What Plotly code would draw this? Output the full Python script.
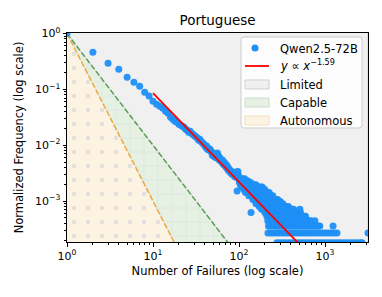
import numpy as np
import plotly.graph_objects as go

# ---- data ----
# head of distribution (number of failures -> count)
head_failures = [1, 2, 3, 4, 5, 6, 7, 8, 9]
head_counts = [11200, 5190, 3290, 2580, 1850, 1510, 1280, 1000, 850]

mid_failures = [10, 11, 12, 13, 14, 15, 16, 17, 18, 19, 20, 21, 22, 23, 24, 25, 26, 27, 28, 29,
                30, 31, 32, 33, 34, 35, 36, 37, 38, 39, 40, 41, 42, 43, 44, 45, 46, 47, 48, 49,
                50, 51, 52, 53, 54, 55, 56, 57, 58, 59, 60,
                61, 62, 63, 64, 65, 66, 67, 68, 69, 70, 71, 72, 73, 74, 75, 76, 78, 79, 80, 81,
                83, 84, 86, 87, 89, 90, 92, 93, 95, 96, 97, 98, 99, 138]
mid_counts = [687, 608, 560, 515, 455, 420, 356, 327, 302, 290, 267, 256, 245, 236, 217, 208, 192, 200, 184, 177,
              169, 163, 156, 150, 138, 144, 132, 127, 122, 117, 112, 103, 108, 95, 99, 91, 95, 88, 84, 74,
              81, 71, 77, 68, 74, 66, 81, 74, 71, 61, 66,
              63, 58, 56, 61, 53, 51, 56, 49, 53, 47, 45, 49, 43, 45, 40, 43, 38, 40, 36, 38,
              34, 37, 33, 35, 31, 33, 30, 37, 17, 35, 38, 33, 29, 7]

# tail: failures observed at a given count level
tail_levels = {
    28: [100, 105, 110, 116],
    26: [103, 108, 113, 120, 126],
    24: [101, 106, 111, 118, 124, 131, 137],
    22: [104, 109, 115, 122, 129, 135, 142, 150, 157],
    20: [107, 112, 117, 125, 133, 140, 147, 155, 163, 170, 178, 186],
    18: [114, 121, 128, 136, 144, 152, 160, 168, 176, 184, 192, 200],
    16: [119, 127, 134, 143, 151, 159, 167, 175, 183, 191, 199, 208, 216, 224],
    14: [130, 138, 146, 154, 162, 171, 180, 189, 198, 207, 217, 227, 237, 247],
    12: [145, 153, 161, 169, 177, 187, 196, 206, 215, 226, 236, 246, 258, 270, 281],
    11: [156, 165, 174, 182, 194, 203, 213, 222, 232, 243, 254, 265, 277, 290, 302],
    10: [158, 166, 176, 185, 195, 205, 212, 220, 230, 240, 251, 262, 274, 286, 298, 311, 324],
    9: [172, 181, 190, 201, 211, 221, 231, 242, 253, 264, 276, 289, 302, 316, 330, 345, 360, 375],
    8: [183, 193, 204, 214, 225, 236, 248, 260, 272, 285, 299, 313, 328, 343, 359, 376, 394, 413, 432, 510],
    7: [200, 210, 219, 229, 239, 250, 261, 273, 287, 300, 314, 329, 344, 361, 378, 396, 415, 435, 456, 478, 500, 518],
    6: [211, 223, 234, 245, 257, 268, 281, 294, 308, 322, 337, 352, 368, 385, 403, 422, 441, 462, 483, 505, 529, 553, 578, 594],
    5: [216, 228, 241, 255, 266, 279, 292, 306, 319, 333, 348, 364, 381, 398, 417, 436, 456, 477, 499, 522, 546, 571, 598, 625, 654, 690, 763],
    4: [220, 233, 247, 262, 276, 290, 304, 318, 334, 349, 366, 383, 401, 420, 439, 460, 481, 503, 527, 551, 577, 604, 632, 661, 692, 724, 758, 793, 830, 870, 1240],
    3: [217, 234, 253, 273, 295, 318, 344, 371, 401, 433, 468, 505, 546, 589, 636, 687, 742, 801, 866, 935, 1010, 1090, 1177, 1271, 1380, 3160],
    2: [276, 298, 322, 348, 376, 406, 438, 473, 511, 552, 596, 644, 695, 751, 811, 876, 946, 1022, 1104, 1192, 1287, 1390, 1501, 1621, 1751, 1891, 2042, 2205, 2380, 2570, 2700],
}

fit_exponent = -1.59
fit_constant = 3.33
fit_start = 10
region_exponents = {"Capable": -2.0, "Autonomous": -3.0}

x_tick_vals = [1, 10, 100, 1000]
x_tick_text = ["10<sup>0</sup>", "10<sup>1</sup>", "10<sup>2</sup>", "10<sup>3</sup>"]
y_tick_vals = [1e-3, 1e-2, 1e-1, 1]
y_tick_text = ["10<sup>\u22123</sup>", "10<sup>\u22122</sup>", "10<sup>\u22121</sup>", "10<sup>0</sup>"]

legend_labels = ["Qwen2.5-72B", "<i>y</i> \u221d <i>x</i><sup>\u22121.59</sup>", "Limited", "Capable", "Autonomous"]

# ---- assemble ----
fx = list(head_failures) + list(mid_failures)
fc = list(head_counts) + list(mid_counts)
for c, xs in tail_levels.items():
    fx += xs
    fc += [c] * len(xs)
fx = np.array(fx, dtype=float)
fc = np.array(fc, dtype=float)
freq = fc / head_counts[0]
xmax = fx.max()

e_cap = region_exponents["Capable"]
e_aut = region_exponents["Autonomous"]

FONT = "DejaVu Sans"
BLUE = "#1e8ff5"
RED = "#ff0000"
COL = {
    "Limited": ("#f0f0f0", "#cfcfcf"),
    "Capable": ("#e6f1e4", "#cddccb"),
    "Autonomous": ("#fdf3e3", "#f2dfc0"),
}
fig = go.Figure()

# Limited (above y = x^-2)
fig.add_trace(go.Scatter(
    x=[1, xmax, xmax, 1], y=[1, xmax ** e_cap, 10, 10], fill="toself", mode="lines",
    fillcolor=COL["Limited"][0], line=dict(color=COL["Limited"][1], width=1), showlegend=False,
    hoverinfo="skip"))
# Capable (between x^-2 and x^-3)
fig.add_trace(go.Scatter(
    x=[1, xmax, xmax, 1], y=[1, xmax ** e_cap, xmax ** e_aut, 1], fill="toself", mode="lines",
    fillcolor=COL["Capable"][0], line=dict(color=COL["Capable"][1], width=1), showlegend=False,
    fillpattern=dict(shape="+", size=14, solidity=0.08, fgcolor="#d6e2d5", bgcolor=COL["Capable"][0], fillmode="replace"),
    hoverinfo="skip"))
# Autonomous (below x^-3)
fig.add_trace(go.Scatter(
    x=[1, xmax, xmax, 1], y=[1, xmax ** e_aut, 1e-12, 1e-12], fill="toself", mode="lines",
    fillcolor=COL["Autonomous"][0], line=dict(color=COL["Autonomous"][1], width=1), showlegend=False,
    fillpattern=dict(shape=".", size=14, solidity=0.08, fgcolor="#e2e0dc", bgcolor=COL["Autonomous"][0], fillmode="replace"),
    hoverinfo="skip"))

# boundary lines
fig.add_trace(go.Scatter(x=[1, xmax], y=[1, xmax ** e_cap], mode="lines",
                         line=dict(color="#5b9e57", width=1.5, dash="5.5px,2.4px"), showlegend=False))
fig.add_trace(go.Scatter(x=[1, xmax], y=[1, xmax ** e_aut], mode="lines",
                         line=dict(color="#e9aa45", width=1.5, dash="5.5px,2.4px"), showlegend=False))

# data
fig.add_trace(go.Scatter(x=fx, y=freq, mode="markers", name=legend_labels[0],
                         marker=dict(color=BLUE, size=7, opacity=0.95, line=dict(width=0)),
                         showlegend=False))
# fit
fit_x = np.array([fit_start, xmax])
fig.add_trace(go.Scatter(x=fit_x, y=fit_constant * fit_x ** fit_exponent, mode="lines",
                         line=dict(color=RED, width=1.8), name=legend_labels[1], showlegend=False))

# ---- manual matplotlib-style legend (paper coordinates) ----
L, R, T, B = 67, 368, 33, 242
def px(v):
    return (v - L) / (R - L)
def py(v):
    return (B - v) / (B - T)

# rounded legend frame
bx0, bx1, by0, by1, rad = 241, 362, 37, 128, 3
frame = (f"M {px(bx0 + rad)},{py(by0)} L {px(bx1 - rad)},{py(by0)} Q {px(bx1)},{py(by0)} {px(bx1)},{py(by0 + rad)} "
         f"L {px(bx1)},{py(by1 - rad)} Q {px(bx1)},{py(by1)} {px(bx1 - rad)},{py(by1)} "
         f"L {px(bx0 + rad)},{py(by1)} Q {px(bx0)},{py(by1)} {px(bx0)},{py(by1 - rad)} "
         f"L {px(bx0)},{py(by0 + rad)} Q {px(bx0)},{py(by0)} {px(bx0 + rad)},{py(by0)} Z")
shapes = [dict(type="path", xref="paper", yref="paper", path=frame,
               fillcolor="rgba(255,255,255,0.85)", line=dict(color="#cccccc", width=1), layer="above")]
rows = [48, 66, 84, 102, 120]
shapes.append(dict(type="circle", xref="paper", yref="paper", x0=px(251.5), x1=px(258.5),
                   y0=py(rows[0] + 3.5), y1=py(rows[0] - 3.5), fillcolor=BLUE, line=dict(width=0), layer="above"))
shapes.append(dict(type="line", xref="paper", yref="paper", x0=px(245), x1=px(269), y0=py(rows[1]), y1=py(rows[1]),
                   line=dict(color=RED, width=1.8), layer="above"))
for name, r in zip(["Limited", "Capable", "Autonomous"], rows[2:]):
    shapes.append(dict(type="rect", xref="paper", yref="paper", x0=px(245), x1=px(269),
                       y0=py(r + 5), y1=py(r - 4), fillcolor=COL[name][0],
                       line=dict(color=COL[name][1], width=1), layer="above"))
annotations = []
for lab, r in zip(legend_labels, rows):
    annotations.append(dict(xref="paper", yref="paper", x=px(278), y=py(r + (1 if lab != legend_labels[1] else -1)),
                            text=lab, showarrow=False, xanchor="left", yanchor="middle",
                            font=dict(family=FONT, size=11.5, color="black")))

axis_common = dict(type="log", showline=True, mirror=True, linecolor="black", linewidth=1,
                   ticks="outside", ticklen=3.5, tickwidth=1, tickcolor="black", automargin=False,
                   showgrid=False, zeroline=False, tickfont=dict(family=FONT, size=11, color="black"))

x_minor = [k * 10 ** n for n in range(0, 4) for k in range(2, 10) if k * 10 ** n <= xmax]
y_minor = [k * 10.0 ** n for n in range(-4, 0) for k in range(2, 10)]

fig.update_layout(
    width=382, height=297,
    margin=dict(l=L, r=382 - R, t=T, b=297 - B, autoexpand=False),
    paper_bgcolor="white", plot_bgcolor="#f0f0f0",
    font=dict(family=FONT, color="black"),
    title=dict(text="Portuguese", x=0.5695, xanchor="center", y=0.933, yanchor="middle",
               font=dict(family=FONT, size=13.5, color="black")),
    xaxis=dict(**axis_common, range=[0, np.log10(xmax)], tickvals=x_tick_vals, ticktext=x_tick_text,
               minor=dict(ticks="outside", ticklen=2, tickcolor="black", tickvals=x_minor),
               title=dict(text="Number of Failures (log scale)", font=dict(family=FONT, size=11.5), standoff=5)),
    yaxis=dict(**axis_common, range=[np.log10(1.85e-4), 0.01], tickvals=y_tick_vals, ticktext=y_tick_text,
               minor=dict(ticks="outside", ticklen=2, tickcolor="black", tickvals=y_minor),
               title=dict(text="Normalized Frequency (log scale)", font=dict(family=FONT, size=11.5), standoff=8)),
    shapes=shapes,
    annotations=annotations,
    showlegend=False,
)

fig.write_html("out.html", config={"displayModeBar": False},
               post_script="document.body.style.margin='0';document.body.style.overflow='hidden';")
